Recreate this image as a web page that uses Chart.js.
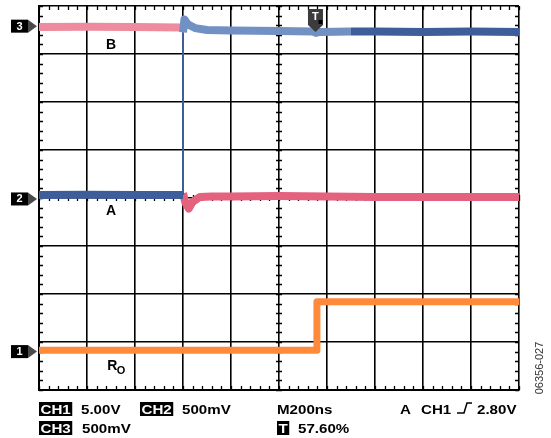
<!DOCTYPE html>
<html>
<head>
<meta charset="utf-8">
<script src="https://cdn.jsdelivr.net/npm/chart.js@4/dist/chart.umd.min.js"></script>
<style>
  html, body { margin: 0; padding: 0; background: #ffffff; }
  canvas { display: block; }
</style>
</head>
<body>
<canvas id="scope" width="551" height="438"></canvas>
<script>
// Horizontal axis: screen divisions (M200ns per division, 10 divisions).
// Vertical axis: screen divisions (8 divisions, 0 = centre line).

// CH2 trace (blue): low until the edge, then high with a short overshoot.
const ch2Time  = [0, 1, 2, 3.0, 3.0, 3.03, 3.1, 3.25, 3.5, 4, 5, 5.7, 5.77, 5.85, 6.5, 7, 8, 9, 10];
const ch2Level = [0.06, 0.07, 0.06, 0.06, 3.45, 3.72, 3.62, 3.54, 3.5, 3.49, 3.48, 3.47, 3.44, 3.46, 3.47, 3.47, 3.46, 3.47, 3.46];

// CH3 trace (pink): high until the edge, then low with a short undershoot.
const ch3Time  = [0, 1, 2, 3.0, 3.0, 3.05, 3.12, 3.2, 3.35, 3.6, 4, 5, 6, 7, 8, 9, 10];
const ch3Level = [3.56, 3.57, 3.56, 3.55, 0.1, -0.1, -0.22, -0.08, 0.02, 0.03, 0.03, 0.04, 0.03, 0.02, 0.02, 0.02, 0.02];

// CH1 trace (orange): receiver output R_O stepping up after the trigger point.
const ch1Time  = [0, 1, 2, 3, 4, 5, 5.79, 5.79, 6, 7, 8, 9, 10];
const ch1Level = [-3.17, -3.17, -3.17, -3.17, -3.17, -3.17, -3.17, -2.16, -2.16, -2.16, -2.16, -2.16, -2.16];

// Channel ground-reference markers (channel number, level in divisions).
const markerChannels = ['3', '2', '1'];
const markerLevels   = [3.58, -0.02, -3.2];

// Trace name labels (text, time, level).
const traceLabels      = ['B', 'A'];
const traceLabelTimes  = [1.5, 1.5];
const traceLabelLevels = [3.19, -0.27];

// Trigger position (57.60 % of record).
const triggerPosition = 5.76;

// Readout texts.
const readoutRow1 = ['CH1', '5.00V', 'CH2', '500mV', 'M200ns', 'A', 'CH1', '2.80V'];
const readoutRow2 = ['CH3', '500mV', 'T', '57.60%'];
const figureId = '06356-027';

const BLUE_DARK = '#3d5d9b';
const BLUE_LIGHT = '#7190c4';
const PINK_LIGHT = '#ef8b9e';
const PINK_DARK = '#e5627e';
const ORANGE = '#ff8a3c';

function pts(xs, ys) { return xs.map((x, i) => ({ x: x, y: ys[i] })); }
const isEdge = c => Math.abs(c.p1.parsed.x - c.p0.parsed.x) < 0.001;

const ch2Data = pts(ch2Time, ch2Level);
const ch3Data = pts(ch3Time, ch3Level);
const ch1Data = pts(ch1Time, ch1Level);

// Minor graticule ticks on the border and the centre cross.
const graticulePlugin = {
  id: 'graticule',
  beforeDatasetsDraw(chart) {
    const { ctx, chartArea: a, scales: { x, y } } = chart;
    ctx.save();
    ctx.strokeStyle = '#000';
    ctx.lineWidth = 1.3;
    ctx.beginPath();
    for (let v = 0; v <= 10.0001; v += 0.2) {
      const px = Math.round(x.getPixelForValue(v)) + 0.5;
      ctx.moveTo(px, a.top); ctx.lineTo(px, a.top + 4);
      ctx.moveTo(px, a.bottom); ctx.lineTo(px, a.bottom - 4);
      const cy = y.getPixelForValue(0);
      ctx.moveTo(px, cy - 3); ctx.lineTo(px, cy + 3);
    }
    for (let v = -4; v <= 4.0001; v += 0.2) {
      const py = Math.round(y.getPixelForValue(v)) + 0.5;
      ctx.moveTo(a.left, py); ctx.lineTo(a.left + 4, py);
      ctx.moveTo(a.right, py); ctx.lineTo(a.right - 4, py);
      const cx = x.getPixelForValue(5);
      ctx.moveTo(cx - 3, py); ctx.lineTo(cx + 3, py);
    }
    ctx.stroke();
    ctx.restore();
  }
};

function scaledText(ctx, text, x, yBase, sx) {
  ctx.save();
  ctx.translate(x, yBase);
  ctx.scale(sx, 1);
  ctx.fillText(text, 0, 0);
  ctx.restore();
  return ctx.measureText(text).width * sx;
}

function boxedText(ctx, text, x, yBase, sx) {
  const w = ctx.measureText(text).width * sx;
  ctx.save();
  ctx.fillStyle = '#000';
  ctx.fillRect(x, yBase - 12, w + 3, 14);
  ctx.fillStyle = '#fff';
  scaledText(ctx, text, x + 1.5, yBase, sx);
  ctx.restore();
}

// Markers, labels and the readout below the screen.
const annotationPlugin = {
  id: 'annotations',
  afterDraw(chart) {
    const { ctx, chartArea: a, scales: { x, y } } = chart;
    ctx.save();

    // Channel markers at the left edge.
    markerChannels.forEach((ch, i) => {
      const cy = y.getPixelForValue(markerLevels[i]);
      ctx.fillStyle = '#000';
      ctx.fillRect(a.left - 28, cy - 6.5, 17, 13);
      ctx.fillStyle = '#4a4a4a';
      ctx.beginPath();
      ctx.moveTo(a.left - 11, cy - 6.5);
      ctx.lineTo(a.left - 2, cy);
      ctx.lineTo(a.left - 11, cy + 6.5);
      ctx.closePath();
      ctx.fill();
      ctx.fillStyle = '#fff';
      ctx.font = 'bold 11px "Liberation Sans", Arial, sans-serif';
      ctx.textAlign = 'center';
      ctx.textBaseline = 'middle';
      ctx.fillText(ch, a.left - 19.5, cy + 0.5);
    });

    // Trace name labels.
    ctx.fillStyle = '#000';
    ctx.font = 'bold 14px "Liberation Sans", Arial, sans-serif';
    ctx.textAlign = 'center';
    ctx.textBaseline = 'middle';
    traceLabels.forEach((t, i) => {
      ctx.fillText(t, x.getPixelForValue(traceLabelTimes[i]), y.getPixelForValue(traceLabelLevels[i]));
    });
    // R with subscript O for the receiver output.
    const rx = x.getPixelForValue(1.42), ry = y.getPixelForValue(-3.5);
    ctx.textAlign = 'left';
    ctx.fillText('R', rx, ry);
    ctx.font = 'bold 11px "Liberation Sans", Arial, sans-serif';
    ctx.fillText('O', rx + 9.5, ry + 5);

    // Trigger position marker at the top.
    const tx = x.getPixelForValue(triggerPosition);
    ctx.fillStyle = '#3c3c3c';
    ctx.beginPath();
    ctx.moveTo(tx - 7.5, a.top + 3);
    ctx.lineTo(tx + 7.5, a.top + 3);
    ctx.lineTo(tx + 7.5, a.top + 19);
    ctx.lineTo(tx, a.top + 26);
    ctx.lineTo(tx - 7.5, a.top + 19);
    ctx.closePath();
    ctx.fill();
    ctx.fillStyle = '#000';
    ctx.fillRect(tx + 3, a.top + 14, 4, 4);
    ctx.fillStyle = '#fff';
    ctx.font = 'bold 11px "Liberation Sans", Arial, sans-serif';
    ctx.textAlign = 'center';
    ctx.textBaseline = 'middle';
    ctx.fillText('T', tx, a.top + 11);

    // Readout rows.
    const sx = 1.12;
    const L = a.left;
    const b1 = a.bottom + 24, b2 = a.bottom + 43;
    ctx.font = 'bold 13.5px "Liberation Sans", Arial, sans-serif';
    ctx.textAlign = 'left';
    ctx.textBaseline = 'alphabetic';
    boxedText(ctx, readoutRow1[0], L, b1, sx);
    ctx.fillStyle = '#000';
    scaledText(ctx, readoutRow1[1], L + 42, b1, sx);
    boxedText(ctx, readoutRow1[2], L + 101, b1, sx);
    ctx.fillStyle = '#000';
    scaledText(ctx, readoutRow1[3], L + 143, b1, sx);
    scaledText(ctx, readoutRow1[4], L + 238, b1, sx);
    scaledText(ctx, readoutRow1[5], L + 361, b1, sx);
    scaledText(ctx, readoutRow1[6], L + 382, b1, sx);
    // Rising-edge trigger slope symbol.
    ctx.strokeStyle = '#000';
    ctx.lineWidth = 1.5;
    ctx.beginPath();
    ctx.moveTo(L + 418, b1 - 1);
    ctx.lineTo(L + 425, b1 - 1);
    ctx.lineTo(L + 428, b1 - 11);
    ctx.lineTo(L + 433, b1 - 11);
    ctx.stroke();
    scaledText(ctx, readoutRow1[7], L + 438, b1, sx);

    boxedText(ctx, readoutRow2[0], L, b2, sx);
    ctx.fillStyle = '#000';
    scaledText(ctx, readoutRow2[1], L + 43, b2, sx);
    boxedText(ctx, readoutRow2[2], L + 238, b2, sx);
    ctx.fillStyle = '#000';
    scaledText(ctx, readoutRow2[3], L + 259, b2, sx);

    // Figure number, rotated along the right edge.
    ctx.save();
    ctx.translate(a.right + 21, a.bottom - 22);
    ctx.rotate(-Math.PI / 2);
    ctx.fillStyle = '#333';
    ctx.font = '11px "Liberation Sans", Arial, sans-serif';
    ctx.textAlign = 'center';
    ctx.textBaseline = 'middle';
    ctx.fillText(figureId, 0, 0);
    ctx.restore();

    ctx.restore();
  }
};

new Chart(document.getElementById('scope'), {
  type: 'line',
  data: {
    datasets: [
      {
        label: 'CH2',
        data: ch2Data,
        order: 0,
        borderWidth: 8,
        borderColor: BLUE_DARK,
        segment: {
          borderColor: c => (c.p0.parsed.x >= 3.0 && c.p0.parsed.x < 6.06 && !isEdge(c)) ? BLUE_LIGHT : BLUE_DARK,
          borderWidth: c => isEdge(c) ? 2 : 8
        }
      },
      {
        label: 'CH3',
        data: ch3Data,
        order: 1,
        borderWidth: 8,
        borderColor: PINK_DARK,
        segment: {
          borderColor: c => c.p0.parsed.x < 3.0 ? PINK_LIGHT : PINK_DARK,
          borderWidth: c => isEdge(c) ? 2 : 8
        }
      },
      {
        label: 'CH1',
        data: ch1Data,
        order: 2,
        borderWidth: 7,
        borderColor: ORANGE
      }
    ]
  },
  options: {
    responsive: false,
    animation: false,
    devicePixelRatio: 1,
    parsing: false,
    elements: {
      point: { radius: 0 },
      line: { tension: 0, borderJoinStyle: 'round', borderCapStyle: 'butt', fill: false }
    },
    layout: { padding: { left: 39, top: 6, right: 32, bottom: 48 } },
    plugins: { legend: { display: false }, tooltip: { enabled: false } },
    scales: {
      x: {
        type: 'linear', min: 0, max: 10,
        ticks: { display: false, stepSize: 1 },
        grid: { color: '#000', lineWidth: 1.6, drawTicks: false },
        border: { display: true, color: '#000', width: 2 }
      },
      y: {
        type: 'linear', min: -4, max: 4,
        ticks: { display: false, stepSize: 1 },
        grid: { color: '#000', lineWidth: 1.6, drawTicks: false },
        border: { display: true, color: '#000', width: 2 }
      }
    }
  },
  plugins: [graticulePlugin, annotationPlugin]
});
</script>
</body>
</html>
